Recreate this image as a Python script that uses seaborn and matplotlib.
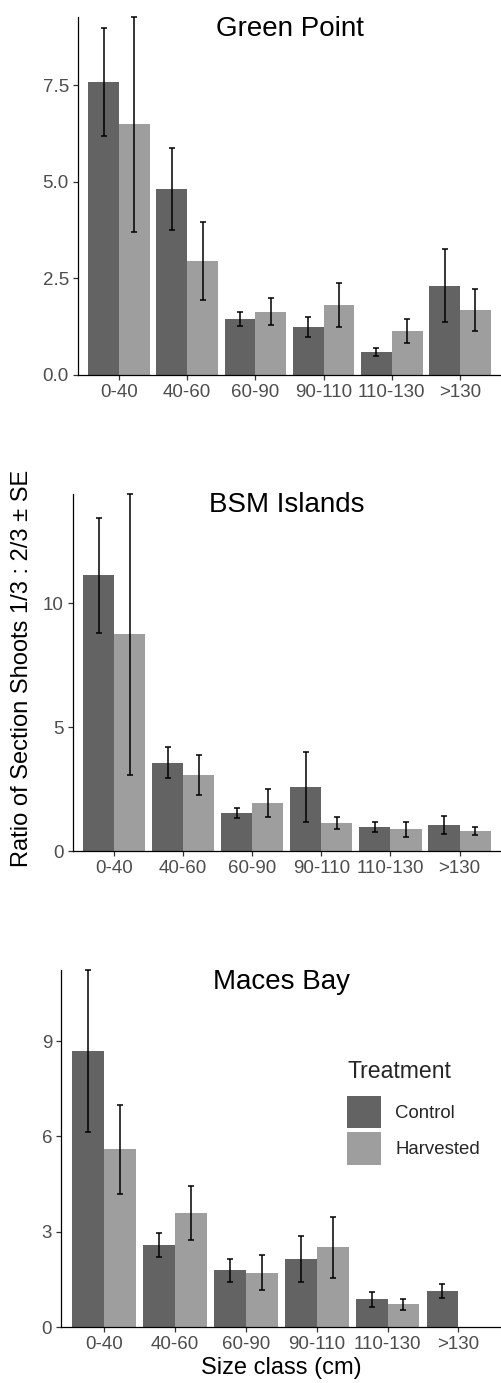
import numpy as np
import pandas as pd
import matplotlib.pyplot as plt
import seaborn as sns

# size classes / treatments / sites
sizes = ['0-40', '40-60', '60-90', '90-110', '110-130', '>130']
treatments = ['Control', 'Harvested']
sites = ['Green Point', 'BSM Islands', 'Maces Bay']

# mean ratio and SE
gp_control = [7.57, 4.82, 1.44, 1.24, 0.60, 2.31]
gp_control_se = [1.40, 1.06, 0.18, 0.25, 0.10, 0.94]
gp_harvested = [6.48, 2.95, 1.64, 1.80, 1.14, 1.69]
gp_harvested_se = [2.78, 1.00, 0.34, 0.57, 0.315, 0.54]

bsm_control = [11.13, 3.56, 1.53, 2.58, 0.97, 1.06]
bsm_control_se = [2.315, 0.625, 0.19, 1.43, 0.215, 0.37]
bsm_harvested = [8.74, 3.06, 1.95, 1.12, 0.87, 0.81]
bsm_harvested_se = [5.675, 0.795, 0.565, 0.24, 0.30, 0.155]

mb_control = [8.69, 2.58, 1.78, 2.15, 0.87, 1.14]
mb_control_se = [2.55, 0.385, 0.37, 0.725, 0.23, 0.22]
mb_harvested = [5.59, 3.58, 1.71, 2.51, 0.72, np.nan]
mb_harvested_se = [1.40, 0.845, 0.56, 0.955, 0.17, np.nan]

yticks = {'Green Point': ([0, 2.5, 5, 7.5], ['0.0', '2.5', '5.0', '7.5']),
          'BSM Islands': ([0, 5, 10], ['0', '5', '10']),
          'Maces Bay': ([0, 3, 6, 9], ['0', '3', '6', '9'])}

series = {
    ('Green Point', 'Control'): (gp_control, gp_control_se),
    ('Green Point', 'Harvested'): (gp_harvested, gp_harvested_se),
    ('BSM Islands', 'Control'): (bsm_control, bsm_control_se),
    ('BSM Islands', 'Harvested'): (bsm_harvested, bsm_harvested_se),
    ('Maces Bay', 'Control'): (mb_control, mb_control_se),
    ('Maces Bay', 'Harvested'): (mb_harvested, mb_harvested_se),
}
rows = []
for (site, trt), (m, se) in series.items():
    for s, mv, sv in zip(sizes, m, se):
        rows.append({'site': site, 'size': s, 'treatment': trt, 'mean': mv, 'se': sv})
df = pd.DataFrame(rows)

sns.set_style('ticks')
plt.rcParams['font.family'] = ['Liberation Sans', 'DejaVu Sans']

fig = plt.figure(figsize=(5.01, 13.83), dpi=100)
W, H = 501, 1383
# (left, top, bottom) in pixels
boxes = [(78, 17, 375), (72.7, 493.7, 851), (61.3, 970, 1327)]

palette = ['#636363', '#9e9e9e']
dodge = 0.9

for site, (l, t, b) in zip(sites, boxes):
    ax = fig.add_axes([l / W, (H - b) / H, (W - l) / W, (b - t) / H])
    d = df[df.site == site]
    sns.barplot(data=d.dropna(), x='size', y='mean', hue='treatment',
                order=sizes, hue_order=treatments, palette=palette,
                width=dodge, gap=0, errorbar=None, linewidth=0,
                legend=(site == 'Maces Bay'), ax=ax)
    for j, trt in enumerate(treatments):
        dt = d[d.treatment == trt].set_index('size').reindex(sizes)
        x = np.arange(len(sizes)) + (j - 0.5) * dodge / 2
        eb = ax.errorbar(x, dt['mean'], yerr=dt['se'], fmt='none', ecolor='black',
                         elinewidth=1.1, capsize=2.1, capthick=1.1)
        for art in eb.get_children():
            art.set_clip_on(False)
    ytop = (d['mean'] + d['se']).max()
    ax.set_ylim(0, ytop)
    ax.set_xlim(-0.6, 5.6)
    ticks, labels = yticks[site]
    ax.set_yticks(ticks)
    ax.set_yticklabels(labels)
    ax.tick_params(labelsize=13.5, labelcolor='#4d4d4d', color='#333333',
                   length=3.6, width=0.9, pad=3)
    sns.despine(ax=ax)
    for sp in ['left', 'bottom']:
        ax.spines[sp].set_linewidth(0.9)
        ax.spines[sp].set_color('black')
    ax.set_ylabel('')
    ax.set_xlabel('')
    ax.text(0.5, 0.948, site, transform=ax.transAxes, ha='center', va='baseline',
            fontsize=20, color='black')
    if site == 'Maces Bay':
        ax.set_xlabel('Size class (cm)', fontsize=17, color='black', labelpad=3)
        handles, labs = ax.get_legend_handles_labels()
        leg = ax.legend(handles, labs, title='Treatment', loc='upper left',
                        bbox_to_anchor=(347 / W, 1 - 1060 / H), bbox_transform=fig.transFigure,
                        frameon=False, borderpad=0, borderaxespad=0, fontsize=13.4,
                        title_fontsize=16.6, handlelength=1.83, handleheight=2.35,
                        handletextpad=0.75, labelspacing=0.2, alignment='left')
        leg._legend_box.sep = 9

fig.text(21.7 / W, 1 - 668 / H, 'Ratio of Section Shoots 1/3 : 2/3 \u00b1 SE',
         rotation=90, ha='center', va='center', fontsize=17, color='black')

fig.savefig('out.png', dpi=100)
